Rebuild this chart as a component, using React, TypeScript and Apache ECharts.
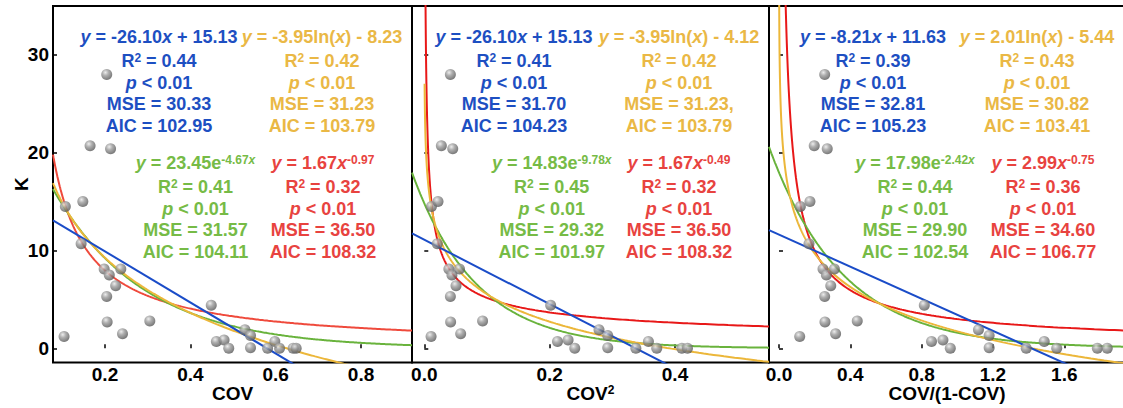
import React, { useEffect, useRef } from "react";
import * as echarts from "echarts";

// ---- data ----
const COV = [0.204, 0.165, 0.213, 0.107, 0.148, 0.144, 0.198, 0.237, 0.210, 0.225, 0.204, 0.205, 0.305, 0.241, 0.104, 0.449, 0.528, 0.541, 0.461, 0.479, 0.490, 0.541, 0.581, 0.598, 0.609, 0.641, 0.648];
const K = [28.0, 20.7, 20.4, 14.5, 15.0, 10.7, 8.1, 8.1, 7.5, 6.4, 5.3, 2.7, 2.8, 1.5, 1.2, 4.4, 1.9, 1.3, 0.7, 0.85, 0.0, 0.05, 0.0, 0.7, 0.0, 0.0, 0.0];

// x variables of the three panels: COV, COV^2, COV/(1-COV)
const X_NAMES = ["COV", "{b|COV}{s|2}", "COV/(1-COV)"];
const X_TICKS = [[0.2, 0.4, 0.6, 0.8], [0, 0.2, 0.4], [0, 0.4, 0.8, 1.2, 1.6]];
const Y_TICKS = [0, 10, 20, 30];
const X_MIN = [0.0781, -0.0196, -0.056];
const X_MAX = [0.9195, 0.55, 1.9405];
const Y_MIN = -1.45;
const Y_MAX = 35;

// fitted curve coefficients (as drawn)
const LIN_SLOPE = [-26.10, -32.9, -8.21];
const LIN_INTER = [15.13, 11.1, 11.63];
const LOG_A = [-8.12, -4.06, -4.95];
const LOG_B = [-3.81, -3.81, 1.74];
const EXP_A = [23.45, 14.83, 17.98];
const EXP_B = [-4.67, -9.78, -2.42];
const POW_A = [1.67, 1.67, 2.99];
const POW_B = [-0.97, -0.49, -0.75];
const LOG_START = [0.0781, 0.0005, 0.0005];
const POW_START = [0.0781, 0.001, 0.004];

// annotation texts
const LIN_TXT = [["-26.10", "15.13"], ["-26.10", "15.13"], ["-8.21", "11.63"]];
const LOG_TXT = [["-3.95", "- 8.23"], ["-3.95", "- 4.12"], ["2.01", "- 5.44"]];
const EXP_TXT = [["23.45", "-4.67"], ["14.83", "-9.78"], ["17.98", "-2.42"]];
const POW_TXT = [["1.67", "-0.97"], ["1.67", "-0.49"], ["2.99", "-0.75"]];
const R2_LIN = ["0.44", "0.41", "0.39"];
const R2_LOG = ["0.42", "0.42", "0.43"];
const R2_EXP = ["0.41", "0.45", "0.44"];
const R2_POW = ["0.32", "0.32", "0.36"];
const MSE_LIN = ["30.33", "31.70", "32.81"];
const MSE_LOG = ["31.23", "31.23,", "30.82"];
const MSE_EXP = ["31.57", "29.32", "29.90"];
const MSE_POW = ["36.50", "36.50", "34.60"];
const AIC_LIN = ["102.95", "104.23", "105.23"];
const AIC_LOG = ["103.79", "103.79", "103.41"];
const AIC_EXP = ["104.11", "101.97", "102.54"];
const AIC_POW = ["108.32", "108.32", "106.77"];

// ---- styling / layout ----
const FONT = "'Liberation Sans', Arial, Helvetica, sans-serif";
const GRID_LEFT = [53, 412, 769];
const GRID_W = [359, 357, 356];
const GRID_TOP = 6;
const GRID_H = 356.5;
const C_BLUE = "#1d4fc2";
const C_YEL = "#eab845";
const C_GRN = "#76bb46";
const C_RED = "#e8433f";
const L_BLUE = "#1a4cc8";
const L_YEL = "#ecb73a";
const L_GRN = "#69b33c";
const L_RED = ["#ef4a3c", "#e81818", "#e81818"];
const ANN_X = { lin: [159, 514, 873], log: [322, 679, 1037], exp: [195.5, 551.7, 915], pow: [323, 679, 1043] };
const ANN_Y_TOP = 36.7;
const ANN_Y_BOT = 162.7;
const LINE_OFF = [0, 23.8, 45.8, 67.3, 88.8];

function linSamples(a: number, b: number, n: number) {
  const out: number[] = [];
  for (let i = 0; i <= n; i++) out.push(a + ((b - a) * i) / n);
  return out;
}
function geoSamples(a: number, b: number, n: number) {
  const out: number[] = [];
  for (let i = 0; i <= n; i++) out.push(a * Math.pow(b / a, i / n));
  return out;
}

function richFor(c: string) {
  const base = { fontFamily: FONT, fontWeight: "bold", fill: c, color: c };
  return {
    n: { ...base, fontSize: 18 },
    i: { ...base, fontSize: 18, fontStyle: "italic" },
    s: { ...base, fontSize: 12, verticalAlign: "top" },
    si: { ...base, fontSize: 12, fontStyle: "italic", verticalAlign: "top" },
  };
}

function block(lines: string[], cx: number, y0: number, c: string) {
  return lines.map((t, k) => ({
    type: "text",
    x: cx,
    y: y0 + LINE_OFF[k],
    z: 100,
    style: {
      text: t,
      rich: richFor(c),
      fill: c,
      fontFamily: FONT,
      fontSize: 18,
      fontWeight: "bold",
      align: "center",
      verticalAlign: "middle",
    },
  }));
}

function buildOption() {
  const xVals = [COV, COV.map((c) => c * c), COV.map((c) => c / (1 - c))];
  const axisFont = { color: "#000", fontFamily: FONT, fontWeight: "bold", fontSize: 19 };

  const grid = [0, 1, 2].map((p) => ({
    left: GRID_LEFT[p],
    top: GRID_TOP,
    width: GRID_W[p],
    height: GRID_H,
    show: true,
    borderColor: "#000",
    borderWidth: 2,
    backgroundColor: "transparent",
    containLabel: false,
    outerBoundsMode: "none",
  }));

  const xAxis = [0, 1, 2].map((p) => ({
    type: "value",
    gridIndex: p,
    min: X_MIN[p],
    max: X_MAX[p],
    axisLine: { show: false },
    splitLine: { show: false },
    axisTick: { show: true, inside: true, length: 4, lineStyle: { color: "#000", width: 1.5 }, customValues: X_TICKS[p] },
    axisLabel: { ...axisFont, customValues: X_TICKS[p], margin: 2, formatter: (v: number) => v.toFixed(1) },
    name: X_NAMES[p],
    nameLocation: "middle",
    nameGap: 21,
    nameMoveOverlap: false,
    nameTextStyle: {
      ...axisFont,
      rich: {
        b: { ...axisFont },
        s: { ...axisFont, fontSize: 12, verticalAlign: "top" },
      },
    },
  }));

  const yAxis = [0, 1, 2].map((p) => ({
    type: "value",
    gridIndex: p,
    min: Y_MIN,
    max: Y_MAX,
    axisLine: { show: false },
    splitLine: { show: false },
    axisTick: { show: true, inside: true, length: 4, lineStyle: { color: "#000", width: 1.5 }, customValues: Y_TICKS },
    axisLabel: { ...axisFont, show: p === 0, customValues: Y_TICKS, margin: 4 },
    name: p === 0 ? "K" : "",
    nameLocation: "middle",
    nameGap: 22,
    nameMoveOverlap: false,
    nameTextStyle: { ...axisFont },
  }));

  const series: any[] = [];
  const lineBase = (p: number, color: string, data: number[][]) => ({
    type: "line",
    xAxisIndex: p,
    yAxisIndex: p,
    data,
    showSymbol: false,
    symbol: "none",
    clip: true,
    z: 2,
    lineStyle: { color, width: 2 },
    emphasis: { disabled: true },
  });
  for (let p = 0; p < 3; p++) {
    const x0 = X_MIN[p];
    const x1 = X_MAX[p];
    series.push(lineBase(p, L_RED[p], geoSamples(Math.max(x0, POW_START[p]), x1, 400).map((x) => [x, POW_A[p] * Math.pow(x, POW_B[p])])));
    series.push(lineBase(p, L_GRN, linSamples(x0, x1, 300).map((x) => [x, EXP_A[p] * Math.exp(EXP_B[p] * x)])));
    series.push(lineBase(p, L_YEL, geoSamples(Math.max(x0, LOG_START[p]), x1, 400).map((x) => [x, LOG_A[p] * Math.log(x) + LOG_B[p]])));
    series.push(lineBase(p, L_BLUE, [x0, x1].map((x) => [x, LIN_SLOPE[p] * x + LIN_INTER[p]])));
    series.push({
      type: "scatter",
      xAxisIndex: p,
      yAxisIndex: p,
      z: 5,
      symbol: "circle",
      symbolSize: 11,
      data: xVals[p].map((x, i) => [x, K[i]]),
      itemStyle: {
        color: new echarts.graphic.RadialGradient(0.38, 0.32, 0.7, [
          { offset: 0, color: "#e8e8e8" },
          { offset: 0.4, color: "#9c9c9c" },
          { offset: 1, color: "#555555" },
        ]),
      },
      emphasis: { disabled: true },
    });
  }

  const graphic: any[] = [];
  for (let p = 0; p < 3; p++) {
    graphic.push(
      ...block(
        [
          `{i|y}{n| = ${LIN_TXT[p][0]}}{i|x}{n| + ${LIN_TXT[p][1]}}`,
          `{n|R}{s|2}{n| = ${R2_LIN[p]}}`,
          `{i|p}{n| < 0.01}`,
          `{n|MSE = ${MSE_LIN[p]}}`,
          `{n|AIC = ${AIC_LIN[p]}}`,
        ],
        ANN_X.lin[p],
        ANN_Y_TOP,
        C_BLUE
      )
    );
    graphic.push(
      ...block(
        [
          `{i|y}{n| = ${LOG_TXT[p][0]}ln(}{i|x}{n|) ${LOG_TXT[p][1]}}`,
          `{n|R}{s|2}{n| = ${R2_LOG[p]}}`,
          `{i|p}{n| < 0.01}`,
          `{n|MSE = ${MSE_LOG[p]}}`,
          `{n|AIC = ${AIC_LOG[p]}}`,
        ],
        ANN_X.log[p],
        ANN_Y_TOP,
        C_YEL
      )
    );
    graphic.push(
      ...block(
        [
          `{i|y}{n| = ${EXP_TXT[p][0]}e}{s|${EXP_TXT[p][1]}}{si|x}`,
          `{n|R}{s|2}{n| = ${R2_EXP[p]}}`,
          `{i|p}{n| < 0.01}`,
          `{n|MSE = ${MSE_EXP[p]}}`,
          `{n|AIC = ${AIC_EXP[p]}}`,
        ],
        ANN_X.exp[p],
        ANN_Y_BOT,
        C_GRN
      )
    );
    graphic.push(
      ...block(
        [
          `{i|y}{n| = ${POW_TXT[p][0]}}{i|x}{s|${POW_TXT[p][1]}}`,
          `{n|R}{s|2}{n| = ${R2_POW[p]}}`,
          `{i|p}{n| < 0.01}`,
          `{n|MSE = ${MSE_POW[p]}}`,
          `{n|AIC = ${AIC_POW[p]}}`,
        ],
        ANN_X.pow[p],
        ANN_Y_BOT,
        C_RED
      )
    );
  }

  return {
    animation: false,
    backgroundColor: "#fff",
    grid,
    xAxis,
    yAxis,
    series,
    graphic,
  };
}

export default function App() {
  const ref = useRef<HTMLDivElement>(null);
  useEffect(() => {
    const chart = echarts.init(ref.current as HTMLDivElement, null, { renderer: "svg" });
    chart.setOption(buildOption() as any);
    return () => chart.dispose();
  }, []);
  return (
    <div
      ref={ref}
      style={{ position: "fixed", left: 0, top: 0, width: 1123, height: 408, background: "#fff" }}
    />
  );
}
